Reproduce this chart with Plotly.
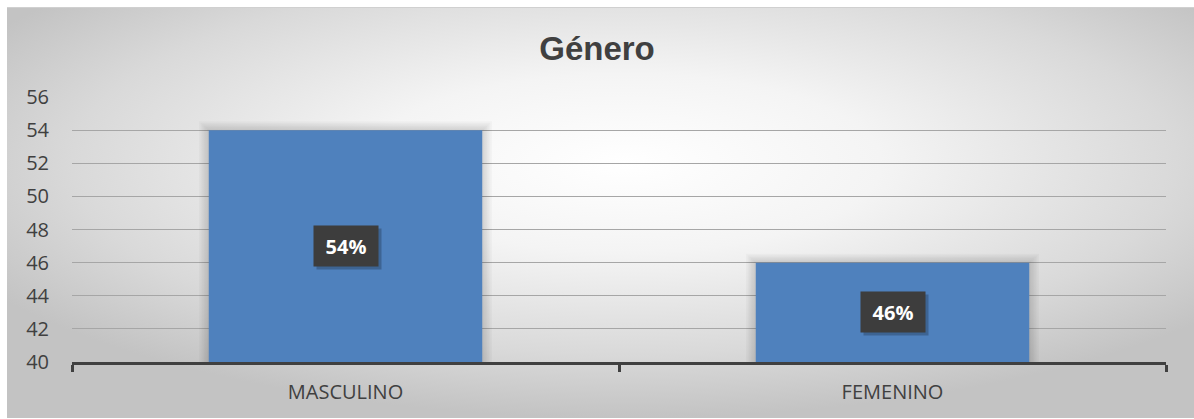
import base64
import plotly.graph_objects as go

# ---- data ----
categories = ["MASCULINO", "FEMENINO"]
values = [54, 46]
labels = ["54%", "46%"]
y_ticks = [40, 42, 44, 46, 48, 50, 52, 54, 56]
title_text = "Género"

W, H = 1194, 419
L, R, T, B = 72, 28, 97, 57
ymin, ymax = 40, 56

# radial gradient background as svg
svg = f'''<svg xmlns="http://www.w3.org/2000/svg" width="1187" height="411" viewBox="0 0 1187 411" preserveAspectRatio="none">
<defs><radialGradient id="g" cx="52%" cy="38%" r="62%">
<stop offset="0" stop-color="#ffffff"/>
<stop offset="0.35" stop-color="#f4f4f4"/>
<stop offset="0.75" stop-color="#d9d9d9"/>
<stop offset="1" stop-color="#c3c3c3"/>
</radialGradient></defs>
<rect x="0" y="0" width="1187" height="411" fill="url(#g)"/>
<rect x="0" y="0" width="1187" height="1" fill="#d0d0d0"/>
</svg>'''
src = "data:image/svg+xml;base64," + base64.b64encode(svg.encode()).decode()

pw = W - L - R
ph = H - T - B
def px_x(p):
    return (p - L) / pw
def px_y(p):
    return (H - B - p) / ph

fig = go.Figure()

# soft shadow layers
for k in range(6, 0, -1):
    fig.add_trace(go.Bar(
        x=categories, y=[v - ymin + 0.09 * k for v in values], width=0.5 + 0.006 * k,
        base=ymin, marker=dict(color="rgba(0,0,0,0.022)", line=dict(width=0)),
        hoverinfo="skip", showlegend=False))

fig.add_trace(go.Bar(
    x=categories, y=[v - ymin for v in values], base=ymin, width=0.5,
    marker=dict(color="#4f81bd", line=dict(width=0)), showlegend=False))

# data labels
for c, v, t in zip(categories, values, labels):
    ymid = (ymin + v) / 2
    fig.add_annotation(x=c, y=ymid, xref="x", yref="y", text="", showarrow=False,
                       width=64, height=40, bgcolor="rgba(0,0,0,0.22)", borderpad=0,
                       xshift=3, yshift=-3)
    fig.add_annotation(x=c, y=ymid, xref="x", yref="y", text=f"<b>{t}</b>", showarrow=False,
                       width=64, height=40, bgcolor="#3d3d3d", borderpad=0,
                       font=dict(family="Open Sans", size=20, color="#ffffff"))

fig.add_layout_image(dict(
    source=src, xref="paper", yref="paper",
    x=px_x(7), y=px_y(7), sizex=px_x(1194) - px_x(7), sizey=px_y(7) - px_y(418),
    xanchor="left", yanchor="top", sizing="stretch", layer="below"))

fig.update_layout(
    width=W, height=H,
    margin=dict(l=L, r=R, t=T, b=B, pad=0),
    paper_bgcolor="#ffffff", plot_bgcolor="rgba(0,0,0,0)",
    barmode="overlay",
    title=dict(text=f"<b>{title_text}</b>", x=0.5, xref="container", xanchor="center",
               y=1 - 48 / H, yref="container", yanchor="middle",
               font=dict(family="Liberation Sans", size=33, color="#404040")),
    font=dict(family="Open Sans", color="#404040"),
    xaxis=dict(type="category", range=[-0.5, 1.5], showline=True, linecolor="#404040",
               linewidth=3, ticks="outside", tickson="boundaries", ticklen=7,
               tickwidth=3, tickcolor="#404040", showgrid=False,
               tickfont=dict(family="Open Sans", size=20, color="#404040"),
               ticklabelstandoff=10, zeroline=False, fixedrange=True),
    yaxis=dict(range=[ymin, ymax], tickvals=y_ticks, ticktext=[str(v) for v in y_ticks],
               showgrid=True, gridcolor="#a6a6a6", gridwidth=1, showline=False,
               zeroline=False, ticks="", ticklabelstandoff=22,
               tickfont=dict(family="Open Sans", size=20, color="#404040"), fixedrange=True),
)

fig.write_html("out.html")
